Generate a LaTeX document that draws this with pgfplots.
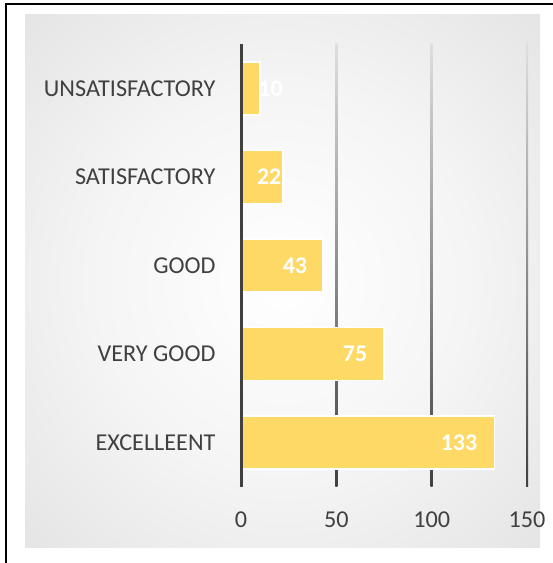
\documentclass[border=0pt]{standalone}
\usepackage{fontspec}
\setmainfont{Carlito}
\usepackage{pgfplots}
\usepackage{pgfplotstable}
\pgfplotsset{compat=1.18}
\definecolor{barcol}{HTML}{FFD966}
\definecolor{txt}{HTML}{404040}
\pgfdeclareradialshading{panel}{\pgfpoint{0bp}{0bp}}{%
  color(0bp)=(white);
  color(18bp)=(white!96!black);
  color(40bp)=(white!88!black);
  color(60bp)=(white!80!black);
  color(71bp)=(white!78!black)}
\pgfplotstableread{
y v
0 133
1 75
2 43
3 22
4 10
}\bars
\pgfplotstableread{
y lx v
0 114.3 133
1 59.8 75
2 28.3 43
3 14.8 22
4 15.5 10
}\labels
\begin{document}
\begin{tikzpicture}
\useasboundingbox (0,0) rectangle (553bp,563bp);
\draw[line width=2bp] (6bp,-2bp) -- (6bp,559bp) -- (556bp,559bp);
\shade[shading=panel] (25bp,15bp) rectangle (540bp,548bp);
\begin{axis}[
  at={(241bp,76bp)}, anchor=south west,
  scale only axis, width=286bp, height=443bp,
  xmin=0, xmax=150, ymin=-0.5, ymax=4.5,
  axis line style={draw=none},
  major tick length=0pt,
  xtick={0,50,100,150},
  ytick={0,1,2,3,4},
  yticklabels={EXCELLEENT,{VERY GOOD\hspace{4bp}},GOOD,SATISFACTORY,UNSATISFACTORY},
  /pgf/number format/assume math mode=true,
  ticklabel style={font=\fontsize{24.3}{28}\selectfont, text=txt},
  xticklabel style={anchor=center, yshift=-33bp},
  yticklabel style={anchor=east, xshift=-22bp},
  clip=false,
]
\foreach \g in {50,100,150}{
  \edef\temp{\noexpand\shade[top color=gray!25, middle color=gray!70, bottom color=txt] ([xshift=-1bp]axis cs:\g,-0.5) rectangle ([xshift=1bp]axis cs:\g,4.5);}
  \temp
}
\addplot[xbar, bar width=53bp, fill=barcol, draw=white, line width=1.5bp] table[x=v, y=y] {\bars};
\draw[txt, line width=3bp] (axis cs:0,-0.5) -- (axis cs:0,4.5);
\addplot[only marks, mark=none, nodes near coords, point meta=explicit symbolic,
  every node near coord/.style={anchor=center, text=white, font=\fontsize{24}{28}\selectfont\bfseries}]
  table[x=lx, y=y, meta=v] {\labels};
\end{axis}
\end{tikzpicture}
\end{document}
